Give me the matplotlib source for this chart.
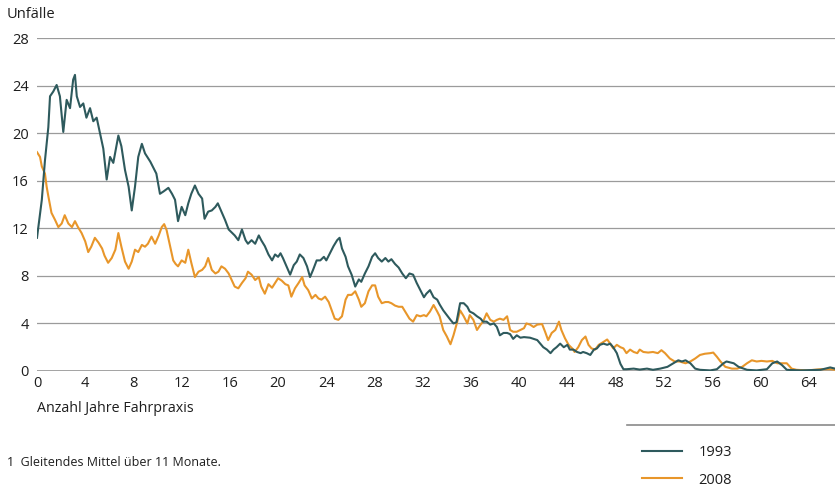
import matplotlib
matplotlib.use("Agg")
import matplotlib.pyplot as plt
from matplotlib.lines import Line2D

plt.rcParams['font.family'] = ['Open Sans', 'DejaVu Sans']

# Unfälle nach Jahren Fahrpraxis (gleitendes Mittel)
jahre_1993 = [0.0, 0.2, 0.4, 0.66, 0.94, 1.08, 1.35, 1.63, 1.9, 2.18, 2.46, 2.74, 3.0, 3.15, 3.3,
              3.57, 3.84, 4.1, 4.4, 4.67, 4.95, 5.2, 5.5, 5.78, 6.06, 6.33, 6.75, 7.0, 7.3, 7.6,
              7.86, 8.13, 8.4, 8.7, 8.96, 9.4, 9.9, 10.2, 10.5, 10.9, 11.2, 11.45, 11.7, 12.0, 12.3,
              12.55, 12.8, 13.1, 13.4, 13.7, 13.9, 14.2, 14.5, 14.8, 15.0, 15.3, 15.6, 15.9, 16.2,
              16.4, 16.7, 17.0, 17.3, 17.5, 17.8, 18.1, 18.4, 18.6, 18.9, 19.2, 19.5, 19.75, 20.0,
              20.2, 20.4, 20.7, 21.0, 21.3, 21.55, 21.8, 22.1, 22.4, 22.65, 22.9, 23.2, 23.5, 23.8,
              24.0, 24.3, 24.6, 24.9, 25.1, 25.3, 25.6, 25.8, 26.1, 26.4, 26.7, 26.9, 27.2, 27.5,
              27.8, 28.05, 28.3, 28.6, 28.9, 29.15, 29.4, 29.7, 30.0, 30.3, 30.6, 30.9, 31.2, 31.5,
              31.8, 32.1, 32.3, 32.6, 32.9, 33.2, 33.4, 33.7, 34.0, 34.3, 34.55, 34.8, 35.1, 35.4,
              35.7, 35.9, 36.2, 36.5, 36.8, 37.0, 37.3, 37.6, 37.9, 38.15, 38.4, 38.7, 39.0, 39.25,
              39.5, 39.8, 40.1, 40.4, 40.9, 41.5, 42.0, 42.3, 42.6, 42.85, 43.1, 43.4, 43.7, 44.0,
              44.2, 44.5, 44.8, 45.1, 45.3, 45.6, 45.9, 46.2, 46.45, 46.7, 47.0, 47.3, 47.55, 47.8,
              48.1, 48.4, 48.65, 48.9, 49.5, 50.0, 50.6, 51.1, 51.7, 52.3, 52.8, 53.2, 53.5, 53.8,
              54.2, 54.6, 55.0, 55.85, 56.4, 56.95, 57.2, 57.8, 58.2, 58.9, 59.7, 60.55, 61.0, 61.4,
              61.8, 62.2, 63.3, 65.0, 65.8, 66.2]
werte_1993 = [11.2, 12.8, 14.4, 17.7, 20.5, 23.1, 23.5, 24.05, 23.1, 20.1, 22.8, 22.1, 24.5, 24.9, 23.1,
              22.2, 22.5, 21.3, 22.1, 21.0, 21.3, 20.1, 18.7, 16.1, 18.0, 17.5, 19.8, 18.9, 16.9, 15.5,
              13.5, 15.5, 18.0, 19.1, 18.3, 17.6, 16.6, 14.9, 15.1, 15.4, 14.9, 14.4, 12.6, 13.8, 13.1,
              14.1, 14.9, 15.6, 14.9, 14.5, 12.8, 13.4, 13.5, 13.8, 14.1, 13.4, 12.7, 11.9, 11.6,
              11.4, 11.0, 11.9, 11.0, 10.7, 11.0, 10.7, 11.4, 11.0, 10.5, 9.8, 9.3, 9.8, 9.6,
              9.9, 9.5, 8.8, 8.1, 8.9, 9.2, 9.8, 9.5, 8.8, 7.9, 8.5, 9.3, 9.3, 9.6,
              9.3, 9.9, 10.5, 11.0, 11.2, 10.3, 9.6, 8.8, 8.1, 7.1, 7.7, 7.5, 8.2, 8.8,
              9.6, 9.9, 9.5, 9.2, 9.5, 9.2, 9.4, 9.0, 8.7, 8.2, 7.8, 8.2, 8.1, 7.4,
              6.8, 6.2, 6.5, 6.8, 6.2, 6.0, 5.6, 5.1, 4.7, 4.3, 4.0, 4.1, 5.7, 5.7,
              5.4, 5.0, 4.85, 4.6, 4.4, 4.15, 4.15, 3.9, 4.0, 3.7, 3.0, 3.2, 3.2, 3.1,
              2.7, 3.0, 2.8, 2.85, 2.8, 2.6, 2.0, 1.8, 1.5, 1.8, 2.0, 2.3, 2.0, 2.2,
              1.8, 1.8, 1.6, 1.5, 1.6, 1.5, 1.35, 1.8, 1.9, 2.2, 2.3, 2.2, 2.3, 2.0,
              1.5, 0.6, 0.15, 0.15, 0.2, 0.12, 0.2, 0.1, 0.2, 0.35, 0.65, 0.9, 0.8, 0.9,
              0.65, 0.2, 0.1, 0.05, 0.15, 0.65, 0.8, 0.65, 0.35, 0.1, 0.05, 0.15, 0.65, 0.8,
              0.5, 0.1, 0.05, 0.1, 0.3, 0.2]

jahre_2008 = [0.0, 0.25, 0.4, 0.66, 0.8, 0.94, 1.2, 1.5, 1.77, 2.05, 2.3, 2.6, 2.9, 3.15, 3.4,
              3.7, 4.0, 4.25, 4.5, 4.8, 5.1, 5.4, 5.6, 5.9, 6.2, 6.5, 6.75, 7.0, 7.3, 7.6,
              7.86, 8.13, 8.4, 8.7, 8.96, 9.2, 9.5, 9.8, 10.1, 10.35, 10.55, 10.75, 11.0, 11.3, 11.5,
              11.7, 12.0, 12.3, 12.55, 12.8, 13.1, 13.4, 13.7, 13.95, 14.2, 14.5, 14.8, 15.05, 15.3,
              15.6, 15.9, 16.15, 16.4, 16.7, 17.0, 17.3, 17.5, 17.8, 18.1, 18.4, 18.6, 18.9, 19.2,
              19.5, 19.75, 20.0, 20.3, 20.6, 20.85, 21.1, 21.4, 21.7, 22.0, 22.2, 22.5, 22.8, 23.1,
              23.35, 23.6, 23.9, 24.2, 24.45, 24.7, 25.0, 25.3, 25.6, 25.8, 26.1, 26.4, 26.7, 26.9,
              27.2, 27.5, 27.8, 28.05, 28.3, 28.6, 28.9, 29.15, 29.4, 29.7, 30.0, 30.3, 30.6, 30.9,
              31.2, 31.5, 31.8, 32.1, 32.3, 32.6, 32.9, 33.2, 33.4, 33.7, 34.0, 34.3, 34.55, 34.8,
              35.1, 35.4, 35.7, 35.9, 36.2, 36.5, 36.8, 37.0, 37.3, 37.6, 37.9, 38.15, 38.4, 38.7,
              39.0, 39.25, 39.5, 39.8, 40.1, 40.4, 40.6, 40.9, 41.2, 41.5, 41.9, 42.15, 42.4, 42.7,
              43.0, 43.3, 43.5, 43.8, 44.1, 44.4, 44.6, 44.9, 45.2, 45.5, 45.75, 46.0, 46.3, 46.6,
              47.0, 47.3, 47.55, 47.8, 48.1, 48.4, 48.65, 48.9, 49.2, 49.5, 49.8, 50.0, 50.3, 50.7,
              51.1, 51.5, 51.8, 52.1, 52.5, 52.9, 53.3, 53.8, 54.2, 54.6, 55.0, 55.4, 55.85, 56.1,
              56.4, 56.7, 57.1, 57.65, 58.1, 58.5, 58.9, 59.3, 59.7, 60.1, 60.55, 61.0, 61.4, 61.8,
              62.2, 62.6, 63.0, 63.9, 65.0, 65.8, 66.2]
werte_2008 = [18.4, 18.0, 17.2, 16.6, 15.5, 14.7, 13.3, 12.7, 12.1, 12.4, 13.1, 12.4, 12.1, 12.6, 12.1,
              11.6, 10.9, 10.0, 10.45, 11.2, 10.8, 10.3, 9.7, 9.1, 9.5, 10.2, 11.6, 10.45, 9.2, 8.6,
              9.2, 10.2, 10.0, 10.6, 10.45, 10.7, 11.3, 10.7, 11.4, 12.1, 12.35, 11.85, 10.7, 9.3, 9.0,
              8.8, 9.3, 9.1, 10.2, 9.1, 7.9, 8.35, 8.5, 8.8, 9.5, 8.5, 8.2, 8.35, 8.8,
              8.6, 8.2, 7.65, 7.1, 6.95, 7.4, 7.8, 8.35, 8.1, 7.65, 7.9, 7.1, 6.5, 7.3,
              7.0, 7.4, 7.8, 7.6, 7.3, 7.2, 6.25, 6.95, 7.4, 7.9, 7.2, 6.8, 6.1, 6.4,
              6.1, 6.0, 6.25, 5.8, 5.1, 4.4, 4.3, 4.6, 6.0, 6.4, 6.4, 6.7, 6.0, 5.4,
              5.7, 6.7, 7.2, 7.2, 6.25, 5.7, 5.8, 5.8, 5.7, 5.5, 5.4, 5.4, 4.9, 4.4,
              4.15, 4.7, 4.6, 4.7, 4.6, 5.0, 5.55, 5.0, 4.6, 3.45, 2.9, 2.25, 3.0, 3.9,
              5.1, 4.6, 4.0, 4.7, 4.3, 3.45, 3.9, 4.15, 4.85, 4.3, 4.15, 4.3, 4.4, 4.3,
              4.6, 3.45, 3.3, 3.3, 3.45, 3.6, 4.0, 3.9, 3.7, 3.9, 3.95, 3.3, 2.6, 3.2,
              3.45, 4.15, 3.45, 2.75, 2.2, 1.9, 1.6, 2.0, 2.6, 2.9, 2.2, 1.9, 1.8, 2.2,
              2.45, 2.65, 2.3, 1.9, 2.2, 2.0, 1.9, 1.5, 1.8, 1.6, 1.5, 1.8, 1.6, 1.55,
              1.6, 1.5, 1.75, 1.5, 1.05, 0.8, 0.8, 0.65, 0.8, 1.05, 1.35, 1.45, 1.5, 1.55,
              1.2, 0.8, 0.35, 0.2, 0.2, 0.35, 0.65, 0.9, 0.8, 0.85, 0.8, 0.85, 0.65, 0.65,
              0.65, 0.2, 0.1, 0.05, 0.15, 0.15, 0.1]

x_ticks = list(range(0, 65, 4))
y_ticks = list(range(0, 29, 4))

farbe_1993 = '#2e5a5d'
farbe_2008 = '#e8962a'
grau = '#9b9b9b'
text_farbe = '#1e1e1e'

W, H = 835, 488
fig = plt.figure(figsize=(W / 100, H / 100), dpi=100)
ax = fig.add_axes([37 / W, 1 - 371 / H, (835 - 37) / W, (371 - 38) / H])

for y in y_ticks:
    ax.axhline(y, color='#8a8a8a' if y == 0 else grau, lw=1.1 if y == 0 else 0.9, zorder=1)

ax.plot(jahre_1993, werte_1993, color=farbe_1993, lw=1.5, label='1993', zorder=3)
ax.plot(jahre_2008, werte_2008, color=farbe_2008, lw=1.5, label='2008', zorder=2)

ax.set_xlim(0, 66.2)
ax.set_ylim(0, 28)
ax.set_xticks(x_ticks)
ax.set_yticks(y_ticks)
ax.tick_params(length=0, labelsize=10.5, colors=text_farbe)
ax.tick_params(axis='y', pad=6)
ax.tick_params(axis='x', pad=3.5)
for s in ax.spines.values():
    s.set_visible(False)

fig.text(7 / W, 1 - 15 / H, 'Unfälle', fontsize=10.5, va='center', color=text_farbe)
fig.text(37 / W, 1 - 408 / H, 'Anzahl Jahre Fahrpraxis', fontsize=10.3, va='center', color=text_farbe)
fig.text(7 / W, 1 - 462 / H, '1  Gleitendes Mittel über 11 Monate.', fontsize=9, va='center',
         color=text_farbe)

fig.add_artist(Line2D([627 / W, 1.0], [1 - 425 / H] * 2, color='#8a8a8a', lw=1.2))

leg = fig.legend(loc='upper left', bbox_to_anchor=(629 / W, 1 - 432 / H), frameon=False,
                 fontsize=10.5, handlelength=2.75, labelspacing=0.85, handletextpad=1.1)
for t in leg.get_texts():
    t.set_color(text_farbe)

fig.savefig('out.png', dpi=100)
